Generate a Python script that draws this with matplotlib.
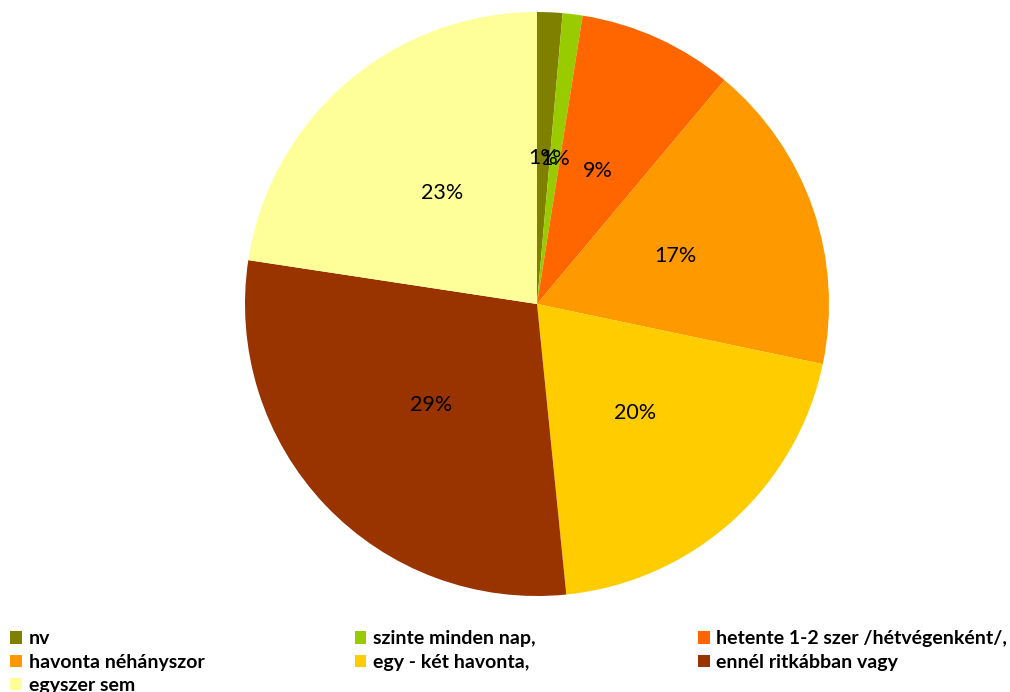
import numpy as np
import matplotlib.pyplot as plt

# ---   DATA   --- #
LABELS = [
    'nv', 'szinte minden nap,', 'hetente 1-2 szer /hétvégenként/,',
    'havonta néhányszor', 'egy - két havonta,', 'ennél ritkábban vagy',
    'egyszer sem'
]
SHARES = [1.4, 1.1, 8.6, 17.2, 20.1, 29.0, 22.6]
COLORS = [
    '#808000', '#99CC00', '#FF6600', '#FF9900', '#FFCC00', '#993300',
    '#FFFF99'
]

plt.rcParams['font.family'] = ['Lato', 'DejaVu Sans']

# ---   FIGURE   --- #
W, H = 1010, 692
fig = plt.figure(figsize=(W / 100, H / 100), dpi=100)
cx, cy, r = 537, 304, 292
ax = fig.add_axes([(cx - r) / W, (H - cy - r) / H, 2 * r / W, 2 * r / H])
wedges, texts, autotexts = ax.pie(
    SHARES, colors=COLORS, startangle=90, counterclock=False,
    autopct='%.0f%%', pctdistance=0.5, radius=1,
    textprops=dict(fontsize=15.5, color='black')
)
ax.set_xlim(-1, 1)
ax.set_ylim(-1, 1)
ax.set_aspect('equal')
ax.axis('off')

# Legend in three fixed columns
columns = [[0, 3, 6], [1, 4], [2, 5]]
xpos = [0.010, 0.351, 0.691]
for col, x in zip(columns, xpos):
    fig.legend(
        [wedges[i] for i in col], [LABELS[i] for i in col],
        loc='upper left', bbox_to_anchor=(x, 0.089), frameon=False,
        prop=dict(size=14, weight='bold'), handlelength=0.6,
        handleheight=0.6, handletextpad=0.35, labelspacing=0.32,
        borderaxespad=0, borderpad=0
    )

fig.savefig('out.png', dpi=100)
